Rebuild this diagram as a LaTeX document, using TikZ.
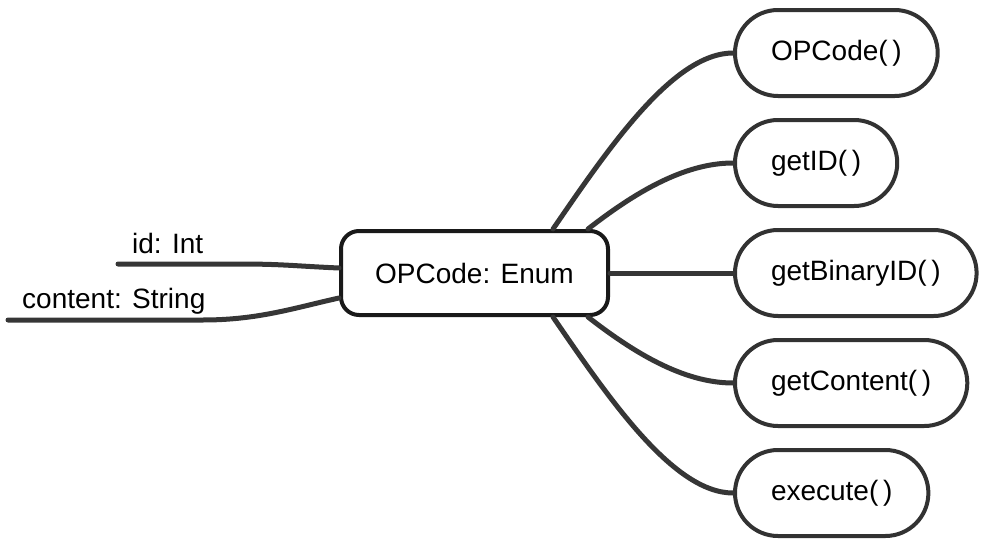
\documentclass[tikz,border=0pt]{standalone}
\usepackage{fontspec}
\setmainfont{Liberation Sans}
\usepackage{tikz}
\usetikzlibrary{positioning}
\definecolor{branchgray}{RGB}{54,54,54}
\definecolor{pillrule}{RGB}{50,50,50}
\tikzset{
  hubbox/.style={rectangle,rounded corners=18pt,draw=black!90,line width=4pt,fill=white,minimum width=267pt,minimum height=84pt,inner sep=0pt},
  method/.style={rectangle,rounded corners=43pt,draw=pillrule,line width=4pt,fill=white,minimum height=86pt,inner xsep=36pt,inner ysep=0pt,anchor=west},
  field/.style={inner sep=0pt,anchor=base west},
  branch/.style={draw=branchgray,line width=5pt,line cap=round}
}

\begin{document}
\begin{tikzpicture}[x=1pt,y=-1pt,font=\fontsize{28}{34}\selectfont]
  \useasboundingbox (0,0) rectangle (986,546);
  \node[hubbox] (hub) at (474.5,273) {OPCode: Enum};
  \node[method] (opcode) at (733,53) {OPCode(\,)};
  \node[method] (getid) at ([yshift=-110pt]opcode.west) {getID(\,)};
  \node[method] (getbin) at ([yshift=-110pt]getid.west) {getBinaryID(\,)};
  \node[method] (getcontent) at ([yshift=-110pt]getbin.west) {getContent(\,)};
  \node[method] (execute) at ([yshift=-110pt]getcontent.west) {execute(\,)};
  % fields on the left
  \node[field] (idlabel) at (132,253) {id: Int};
  \node[field] (contentlabel) at (22,308) {content: String};
  \coordinate (idtail) at (118,264);
  \coordinate (contenttail) at (8,320);
  \begin{scope}[on background layer/.try]
  \draw[branch] (idtail) -- ++(120,0) .. controls +(45,0) and +(-45,-2) .. ([yshift=5pt]hub.west);
  \draw[branch] (contenttail) -- ++(195,0) .. controls +(55,0) and +(-45,10) .. ([yshift=-25pt]hub.west);
  % methods on the right
  \draw[branch] ([xshift=78.5pt]hub.north) .. controls +(55,-80) and +(-60,0) .. (opcode.west);
  \draw[branch] ([xshift=113.5pt]hub.north) .. controls +(45,-35) and +(-50,0) .. (getid.west);
  \draw[branch] (hub.east) -- (getbin.west);
  \draw[branch] ([xshift=113.5pt]hub.south) .. controls +(45,35) and +(-50,0) .. (getcontent.west);
  \draw[branch] ([xshift=78.5pt]hub.south) .. controls +(55,80) and +(-60,0) .. (execute.west);
  \end{scope}
\end{tikzpicture}
\end{document}
